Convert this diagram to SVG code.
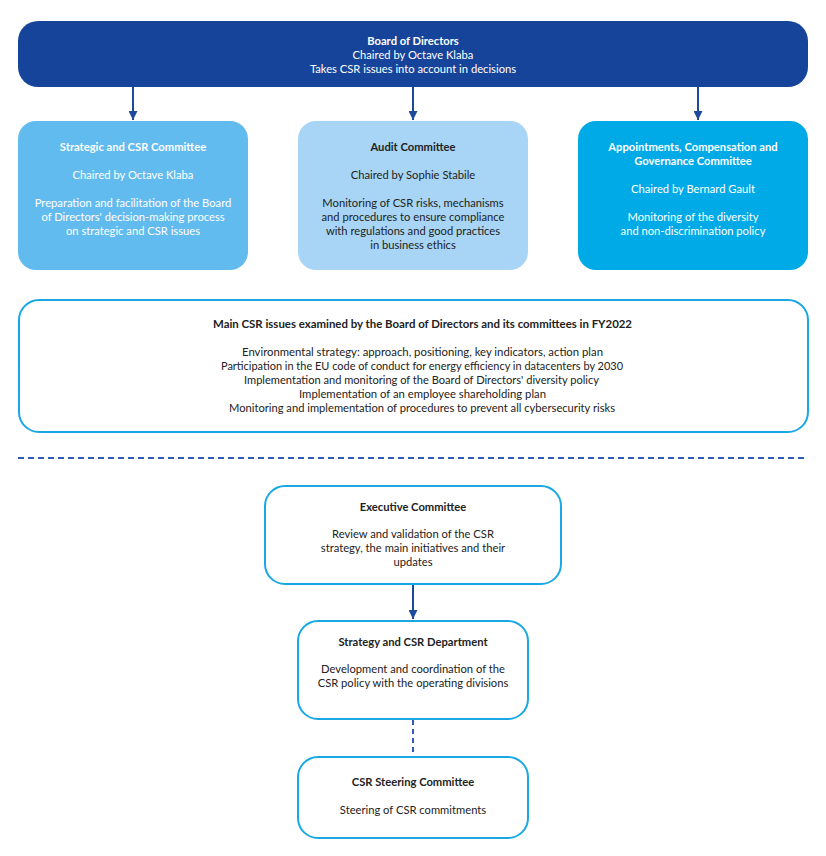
<svg xmlns="http://www.w3.org/2000/svg" width="826" height="856" viewBox="0 0 826 856">
<style>
text{font-family:Lato,"Source Sans Pro","Open Sans",sans-serif;font-size:11.2px;text-anchor:middle}
.b{font-weight:bold}
.w{fill:#ffffff}
.d{fill:#222222}
.box{fill:#ffffff;stroke:#1aa8e5;stroke-width:2}
.conn{stroke:#1d4a9c;stroke-width:2;fill:none}
</style>
<defs>
<marker id="ah" viewBox="0 0 10 10" refX="10" refY="5" markerWidth="4.5" markerHeight="4.5" orient="auto">
<path d="M0,0 L10,5 L0,10 z" fill="#1d4a9c"/>
</marker>
</defs>
<g id="connectors">
<line class="conn" x1="133" y1="87" x2="133" y2="120" marker-end="url(#ah)"/>
<line class="conn" x1="413" y1="87" x2="413" y2="120" marker-end="url(#ah)"/>
<line class="conn" x1="698" y1="87" x2="698" y2="120" marker-end="url(#ah)"/>
<line class="conn" x1="413" y1="585" x2="413" y2="619" marker-end="url(#ah)"/>
<line x1="413" y1="720" x2="413" y2="755" stroke="#2e5bb5" stroke-width="2" stroke-dasharray="5,4"/>
</g>
<g id="separator">
<line x1="18" y1="458" x2="808" y2="458" stroke="#2e5bb5" stroke-width="2" stroke-dasharray="6,4"/>
</g>
<g id="board">
<rect x="18" y="21" width="790" height="66" rx="20" fill="#15449a"/>
<text class="b w" x="413" y="45">Board of Directors</text>
<text class="w" x="413" y="59">Chaired by Octave Klaba</text>
<text class="w" x="413" y="73">Takes CSR issues into account in decisions</text>
</g>
<g id="strategic-csr">
<rect x="18" y="121" width="230" height="149" rx="18" fill="#62bbee"/>
<text class="b w" x="133" y="151">Strategic and CSR Committee</text>
<text class="w" x="133" y="179">Chaired by Octave Klaba</text>
<text class="w" x="133" y="207">Preparation and facilitation of the Board</text>
<text class="w" x="133" y="221">of Directors' decision-making process</text>
<text class="w" x="133" y="235">on strategic and CSR issues</text>
</g>
<g id="audit">
<rect x="298" y="121" width="230" height="149" rx="18" fill="#a8d5f5"/>
<text class="b d" x="413" y="151">Audit Committee</text>
<text class="d" x="413" y="179">Chaired by Sophie Stabile</text>
<text class="d" x="413" y="207">Monitoring of CSR risks, mechanisms</text>
<text class="d" x="413" y="221">and procedures to ensure compliance</text>
<text class="d" x="413" y="235">with regulations and good practices</text>
<text class="d" x="413" y="249">in business ethics</text>
</g>
<g id="appointments">
<rect x="578" y="121" width="230" height="149" rx="18" fill="#00aae7"/>
<text class="b w" x="693" y="151">Appointments, Compensation and</text>
<text class="b w" x="693" y="165">Governance Committee</text>
<text class="w" x="693" y="193">Chaired by Bernard Gault</text>
<text class="w" x="693" y="221">Monitoring of the diversity</text>
<text class="w" x="693" y="235">and non-discrimination policy</text>
</g>
<g id="csr-issues">
<rect class="box" x="19" y="300" width="789" height="132" rx="20"/>
<text class="b d" x="422.5" y="328" textLength="419" lengthAdjust="spacingAndGlyphs">Main CSR issues examined by the Board of Directors and its committees in FY2022</text>
<text class="d" x="422.5" y="356" textLength="361" lengthAdjust="spacingAndGlyphs">Environmental strategy: approach, positioning, key indicators, action plan</text>
<text class="d" x="422" y="370" textLength="402" lengthAdjust="spacingAndGlyphs">Participation in the EU code of conduct for energy efficiency in datacenters by 2030</text>
<text class="d" x="421.5" y="384" textLength="355" lengthAdjust="spacingAndGlyphs">Implementation and monitoring of the Board of Directors' diversity policy</text>
<text class="d" x="422.5" y="398" textLength="247" lengthAdjust="spacingAndGlyphs">Implementation of an employee shareholding plan</text>
<text class="d" x="422" y="412" textLength="386" lengthAdjust="spacingAndGlyphs">Monitoring and implementation of procedures to prevent all cybersecurity risks</text>
</g>
<g id="executive">
<rect class="box" x="265" y="486" width="296" height="98" rx="20"/>
<text class="b d" x="413" y="511">Executive Committee</text>
<text class="d" x="413" y="538">Review and validation of the CSR</text>
<text class="d" x="413" y="552">strategy, the main initiatives and their</text>
<text class="d" x="413" y="566">updates</text>
</g>
<g id="strategy-dept">
<rect class="box" x="298" y="621" width="230" height="98" rx="20"/>
<text class="b d" x="413" y="646">Strategy and CSR Department</text>
<text class="d" x="413" y="673">Development and coordination of the</text>
<text class="d" x="413" y="687">CSR policy with the operating divisions</text>
</g>
<g id="steering">
<rect class="box" x="298" y="757" width="230" height="81" rx="20"/>
<text class="b d" x="413" y="786">CSR Steering Committee</text>
<text class="d" x="413" y="814">Steering of CSR commitments</text>
</g>
</svg>
